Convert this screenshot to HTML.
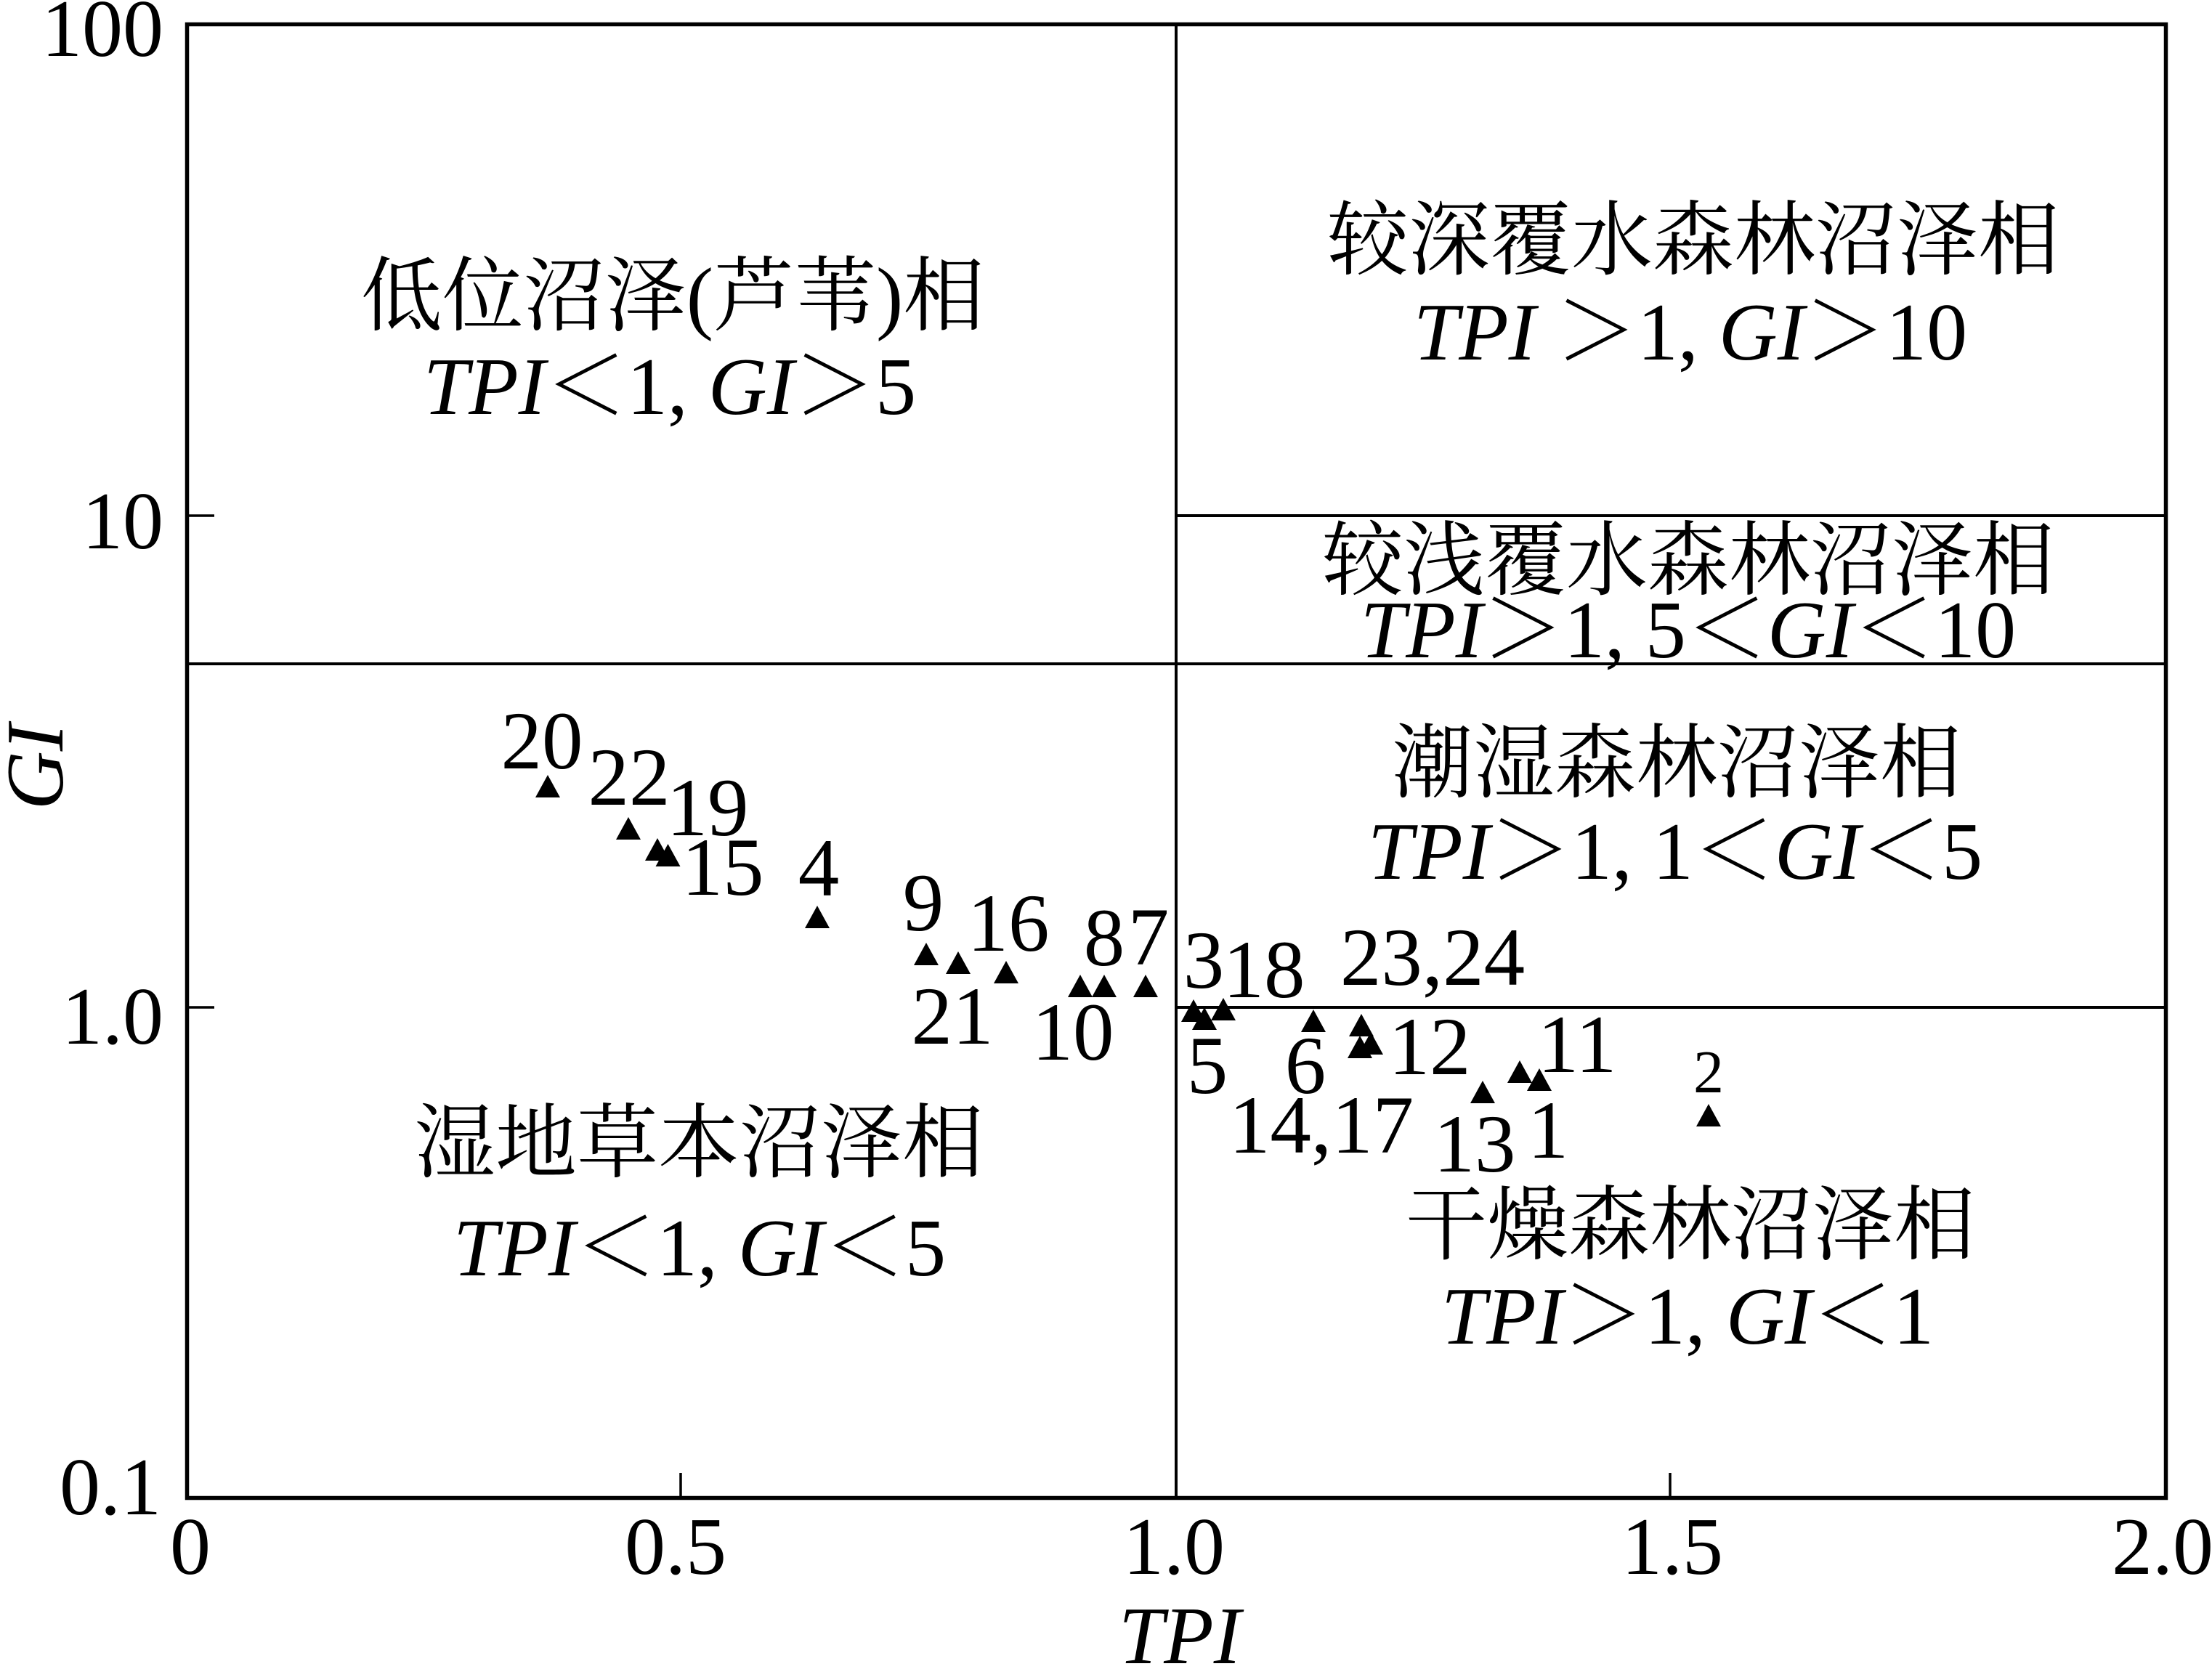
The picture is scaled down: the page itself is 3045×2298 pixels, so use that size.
<!DOCTYPE html>
<html>
<head>
<meta charset="utf-8">
<style>
  html, body { margin: 0; padding: 0; background: #fff; }
  svg { display: block; }
  text { font-family: "Liberation Serif", "Noto Serif CJK SC", serif; fill: #000; }
  .it { font-style: italic; }
</style>
</head>
<body>
<svg width="3045" height="2298" viewBox="0 0 3045 2298" xmlns="http://www.w3.org/2000/svg">
  <rect x="0" y="0" width="3045" height="2298" fill="#fff"/>

  <!-- inner division lines -->
  <g stroke="#000" stroke-width="4" fill="none">
    <line x1="1619" y1="33.5" x2="1619" y2="2062.5"/>
    <line x1="257.5" y1="914" x2="2981.5" y2="914"/>
    <line x1="1619" y1="710" x2="2981.5" y2="710"/>
    <line x1="1619" y1="1387" x2="2981.5" y2="1387"/>
  </g>

  <!-- ticks -->
  <g stroke="#000" stroke-width="3.5">
    <line x1="258" y1="710" x2="295" y2="710"/>
    <line x1="258" y1="1387" x2="295" y2="1387"/>
    <line x1="937" y1="2028" x2="937" y2="2062"/>
    <line x1="2299" y1="2028" x2="2299" y2="2062"/>
  </g>

  <!-- frame -->
  <rect x="257.5" y="33.5" width="2724" height="2029" fill="none" stroke="#000" stroke-width="5.5"/>

  <!-- y tick labels -->
  <g font-size="112" text-anchor="end">
    <text x="225" y="77">100</text>
    <text x="225" y="755">10</text>
    <text x="225" y="1437">1.0</text>
    <text x="222" y="2085">0.1</text>
  </g>

  <!-- x tick labels -->
  <g font-size="112" text-anchor="middle">
    <text x="262" y="2167">0</text>
    <text x="930" y="2167">0.5</text>
    <text x="1616" y="2167">1.0</text>
    <text x="2302" y="2167">1.5</text>
    <text x="2977" y="2167">2.0</text>
  </g>

  <!-- axis titles -->
  <text x="1624" y="2290" font-size="112" text-anchor="middle" class="it">TPI</text>
  <text transform="translate(86,1056) rotate(-90)" font-size="112" text-anchor="middle" class="it">GI</text>

  <!-- region labels -->
  <g font-size="112" text-anchor="middle">
    <text x="926" y="446">低位沼泽(芦苇)相</text>
    <text x="922" y="570"><tspan class="it">TPI</tspan>＜1, <tspan class="it">GI</tspan>＞5</text>

    <text x="2331" y="369">较深覆水森林沼泽相</text>
    <text x="2327" y="495"><tspan class="it">TPI</tspan> ＞1, <tspan class="it">GI</tspan>＞10</text>

    <text x="2324" y="810">较浅覆水森林沼泽相</text>
    <text x="2324" y="905"><tspan class="it">TPI</tspan>＞1, 5＜<tspan class="it">GI</tspan>＜10</text>

    <text x="2308" y="1089">潮湿森林沼泽相</text>
    <text x="2306" y="1210"><tspan class="it">TPI</tspan>＞1, 1＜<tspan class="it">GI</tspan>＜5</text>

    <text x="2327" y="1725">干燥森林沼泽相</text>
    <text x="2323" y="1850"><tspan class="it">TPI</tspan>＞1, <tspan class="it">GI</tspan>＜1</text>

    <text x="962" y="1612">湿地草本沼泽相</text>
    <text x="963" y="1756"><tspan class="it">TPI</tspan>＜1, <tspan class="it">GI</tspan>＜5</text>
  </g>

  <!-- data points (triangles) -->
  <g fill="#000">
    <path d="M754,1067 l17,31 h-34 z"/>
    <path d="M865,1125 l17,31 h-34 z"/>
    <path d="M905,1154 l17,31 h-34 z"/>
    <path d="M919.5,1162 l17,31 h-34 z"/>
    <path d="M1125,1247 l17,31 h-34 z"/>
    <path d="M1275,1298 l17,31 h-34 z"/>
    <path d="M1319,1310 l17,31 h-34 z"/>
    <path d="M1385,1323 l17,31 h-34 z"/>
    <path d="M1487,1342 l17,31 h-34 z"/>
    <path d="M1520,1342 l17,31 h-34 z"/>
    <path d="M1577,1342 l17,31 h-34 z"/>
    <path d="M1643,1376 l17,31 h-34 z"/>
    <path d="M1658,1387 l17,31 h-34 z"/>
    <path d="M1684,1374 l17,31 h-34 z"/>
    <path d="M1808,1390 l17,31 h-34 z"/>
    <path d="M1874,1396 l17,31 h-34 z"/>
    <path d="M1872,1426 l17,31 h-34 z"/>
    <path d="M1887,1421 l17,31 h-34 z"/>
    <path d="M2041,1488 l17,31 h-34 z"/>
    <path d="M2092,1460 l17,31 h-34 z"/>
    <path d="M2119,1471 l17,31 h-34 z"/>
    <path d="M2352,1520 l17,31 h-34 z"/>
  </g>

  <!-- data labels -->
  <g font-size="113" text-anchor="middle">
    <text x="746" y="1058">20</text>
    <text x="866" y="1108">22</text>
    <text x="974" y="1150">19</text>
    <text x="995" y="1232">15</text>
    <text x="1127" y="1233">4</text>
    <text x="1271" y="1281">9</text>
    <text x="1388" y="1309">16</text>
    <text x="1520" y="1329">8</text>
    <text x="1581" y="1328">7</text>
    <text x="1311" y="1437">21</text>
    <text x="1477" y="1459">10</text>
    <text x="1657" y="1360">3</text>
    <text x="1740" y="1373">18</text>
    <text x="1972" y="1356">23,24</text>
    <text x="1662" y="1505">5</text>
    <text x="1797" y="1505">6</text>
    <text x="1968" y="1479">12</text>
    <text x="2171" y="1476">11</text>
    <text x="1819" y="1587">14,17</text>
    <text x="2030" y="1613">13</text>
    <text x="2131" y="1594">1</text>
  </g>
  <text x="2352" y="1504" font-size="84" text-anchor="middle">2</text>
</svg>
</body>
</html>
